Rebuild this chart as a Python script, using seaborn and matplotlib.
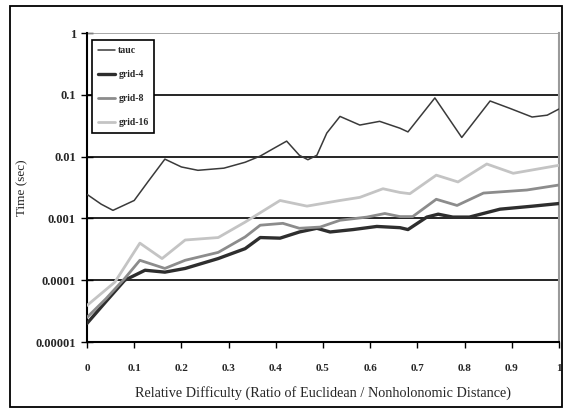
import matplotlib
matplotlib.use("Agg")
import matplotlib.pyplot as plt
import matplotlib.patches as mpatches
import numpy as np
import pandas as pd
import seaborn as sns

# Timing results (seconds) versus relative difficulty, one list pair per planner
tauc_x = [0.0, 0.03, 0.055, 0.10, 0.13, 0.165, 0.20, 0.235, 0.29, 0.335, 0.367,
          0.395, 0.423, 0.45, 0.468, 0.487, 0.508, 0.536, 0.578, 0.62, 0.663,
          0.68, 0.737, 0.794, 0.854, 0.896, 0.943, 0.975, 1.0]
tauc_t = [0.00245, 0.0017, 0.00135, 0.00195, 0.0040, 0.0091, 0.0068, 0.0060,
          0.0065, 0.0081, 0.0102, 0.0135, 0.0178, 0.0105, 0.0089, 0.0105,
          0.024, 0.0447, 0.0324, 0.0372, 0.0288, 0.0251, 0.089, 0.0204,
          0.0794, 0.0603, 0.0437, 0.0468, 0.0589]

grid4_x = [0.0, 0.04, 0.08, 0.123, 0.165, 0.208, 0.278, 0.335, 0.367, 0.409,
           0.45, 0.487, 0.515, 0.564, 0.614, 0.663, 0.68, 0.72, 0.744, 0.775,
           0.81, 0.875, 0.945, 1.0]
grid4_t = [0.00002, 0.000045, 0.0001, 0.000145, 0.000135, 0.000155, 0.000224,
           0.000324, 0.00049, 0.000479, 0.000603, 0.000692, 0.000603, 0.00066,
           0.000741, 0.000708, 0.00066, 0.00105, 0.00117, 0.00105, 0.00105,
           0.00141, 0.00158, 0.00174]

grid8_x = [0.0, 0.04, 0.08, 0.112, 0.165, 0.208, 0.278, 0.335, 0.367, 0.415,
           0.45, 0.494, 0.536, 0.593, 0.631, 0.663, 0.69, 0.74, 0.784, 0.84,
           0.932, 1.0]
grid8_t = [0.000025, 0.00005, 0.000107, 0.00021, 0.000155, 0.00021, 0.000282,
           0.000501, 0.000776, 0.000832, 0.000692, 0.000724, 0.000933, 0.00105,
           0.0012, 0.00107, 0.00107, 0.00204, 0.00162, 0.00257, 0.00288,
           0.00347]

grid16_x = [0.0, 0.059, 0.112, 0.159, 0.208, 0.278, 0.335, 0.409, 0.466, 0.536,
            0.578, 0.627, 0.663, 0.684, 0.74, 0.786, 0.847, 0.903, 1.0]
grid16_t = [0.000039, 0.000093, 0.000398, 0.000224, 0.000447, 0.00049,
            0.000871, 0.00195, 0.00158, 0.00195, 0.00219, 0.00302, 0.00263,
            0.00251, 0.00501, 0.00389, 0.00759, 0.00537, 0.00724]

series_names = ["tauc", "grid-4", "grid-8", "grid-16"]
x_ticks = [0.0, 0.1, 0.2, 0.3, 0.4, 0.5, 0.6, 0.7, 0.8, 0.9, 1.0]
x_tick_labels = ["0", "0.1", "0.2", "0.3", "0.4", "0.5", "0.6", "0.7", "0.8", "0.9", "1"]
y_ticks = [1e-5, 1e-4, 1e-3, 1e-2, 1e-1, 1]
y_tick_labels = ["0.00001", "0.0001", "0.001", "0.01", "0.1", "1"]

frames = []
for name, xs, ts in zip(series_names,
                        [tauc_x, grid4_x, grid8_x, grid16_x],
                        [tauc_t, grid4_t, grid8_t, grid16_t]):
    frames.append(pd.DataFrame({"difficulty": xs, "time": ts, "planner": name}))
df = pd.concat(frames, ignore_index=True)

sns.set_theme(style="white")
plt.rcParams["font.family"] = ["Liberation Serif", "DejaVu Serif"]

fig = plt.figure(figsize=(5.66, 4.11), dpi=100)
ax = fig.add_axes([87 / 566, 1 - 342 / 411, 472 / 566, 309 / 411])

colors = {"tauc": "#3a3a3a", "grid-4": "#2e2e2e", "grid-8": "#8c8c8c", "grid-16": "#c4c4c4"}
widths = {"tauc": 1.1, "grid-4": 2.4, "grid-8": 2.0, "grid-16": 2.0}

# Horizontal decade gridlines
for yv in y_ticks[1:-1]:
    ax.axhline(yv, color="black", lw=1.2, zorder=1)
ax.axhline(1, color="#9a9a9a", lw=1.2, zorder=1)

for name in series_names:
    sub = df[df["planner"] == name]
    sns.lineplot(data=sub, x="difficulty", y="time", ax=ax, color=colors[name],
                 linewidth=widths[name], label=name, sort=False, zorder=3)

ax.set_yscale("log")
ax.set_xlim(0, 1)
ax.set_ylim(1e-5, 1)
ax.set_xticks(x_ticks)
ax.set_xticklabels(x_tick_labels)
ax.set_yticks(y_ticks)
ax.set_yticklabels(y_tick_labels)
ax.minorticks_off()
ax.tick_params(axis="x", direction="out", length=4, width=1, color="black",
               labelsize=8, pad=12, bottom=True)
ax.tick_params(axis="y", direction="inout", length=8, width=1, color="black",
               labelsize=9, pad=4, left=True)
for lbl in ax.get_xticklabels() + ax.get_yticklabels():
    lbl.set_fontweight("bold")

ax.set_xlabel("Relative Difficulty (Ratio of Euclidean / Nonholonomic Distance)",
              fontsize=10.3, labelpad=9)
ax.set_ylabel("Time (sec)", fontsize=9.5, labelpad=5)

for side in ["left", "bottom"]:
    ax.spines[side].set_color("black")
    ax.spines[side].set_linewidth(1.5)
ax.spines["top"].set_visible(False)
ax.spines["right"].set_color("#9a9a9a")
ax.spines["right"].set_linewidth(1.5)

leg = ax.legend(loc="upper left", bbox_to_anchor=(0.0106, 0.977), frameon=True,
                fancybox=False, fontsize=7, handlelength=1.8, borderaxespad=0,
                labelspacing=1.55, borderpad=0.6, handletextpad=0.3)
leg.get_frame().set_edgecolor("black")
leg.get_frame().set_linewidth(1.2)
leg.get_frame().set_alpha(1)
for t in leg.get_texts():
    t.set_fontweight("bold")

# Outer chart border
fig.patches.append(mpatches.Rectangle((10 / 566, 4 / 411), 552 / 566, 401 / 411,
                                      transform=fig.transFigure, fill=False,
                                      edgecolor="black", linewidth=1.3))

fig.savefig("out.png", dpi=100)
